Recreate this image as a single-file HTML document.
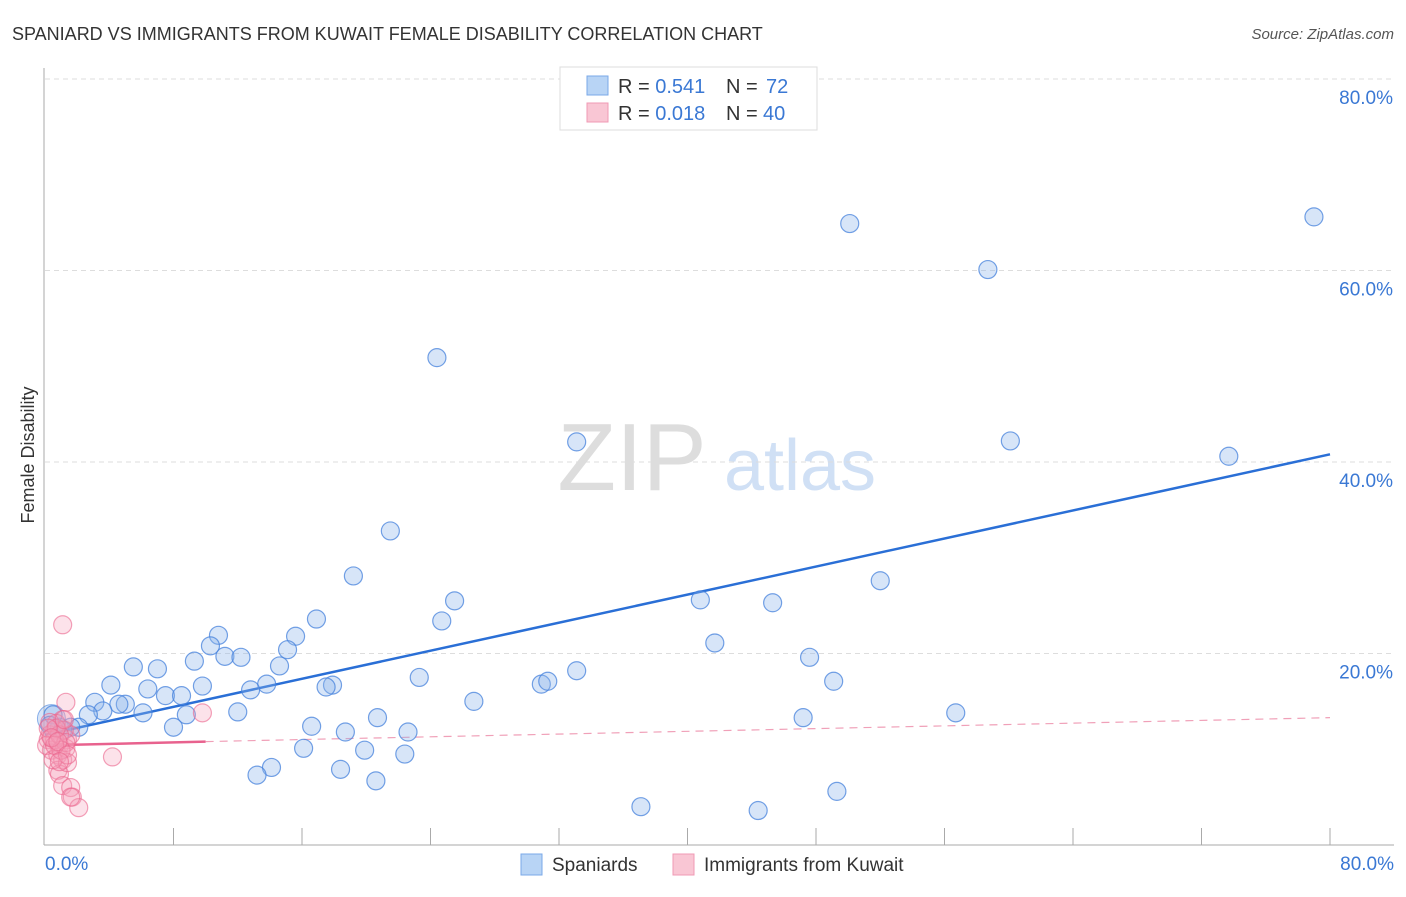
<!DOCTYPE html>
<html><head><meta charset="utf-8"><style>
body{margin:0;background:#fff;font-family:"Liberation Sans",sans-serif}
svg text{font-family:"Liberation Sans",sans-serif}
</style></head><body>
<svg id="c" width="1406" height="892">
<text x="12" y="40" font-size="18" fill="#333">SPANIARD VS IMMIGRANTS FROM KUWAIT FEMALE DISABILITY CORRELATION CHART</text>
<text x="1394" y="39" font-size="15" fill="#555" text-anchor="end" font-style="italic">Source: ZipAtlas.com</text>
<text x="34" y="455" font-size="18" fill="#333" text-anchor="middle" transform="rotate(-90 34 455)">Female Disability</text>
<g><text x="632" y="490" font-size="96" fill="#ddd" font-family="Liberation Serif" text-anchor="middle">ZIP</text><text x="800" y="490" font-size="72" fill="#d0e0f5" text-anchor="middle">atlas</text></g>
<g id="grid"></g><g id="axes"></g><g id="lines"></g><g id="pts"></g>
<g>
<rect x="560" y="67" width="257" height="63" fill="#fff" stroke="#ddd"/>
<rect x="587" y="76" width="21" height="19" fill="#b8d4f5" stroke="#7aa8e8"/>
<rect x="587" y="103" width="21" height="19" fill="#f9c6d4" stroke="#f09ab4"/>
<text x="618" y="93" font-size="20" fill="#333">R = <tspan fill="#3a78d4">0.541</tspan><tspan x="726">N = </tspan><tspan x="766" fill="#3a78d4">72</tspan></text>
<text x="618" y="120" font-size="20" fill="#333">R = <tspan fill="#3a78d4">0.018</tspan><tspan x="726">N = </tspan><tspan x="763" fill="#3a78d4">40</tspan></text>
</g>
<g>
<rect x="521" y="854" width="21" height="21" fill="#b8d4f5" stroke="#7aa8e8"/>
<text x="552" y="871" font-size="19" fill="#333">Spaniards</text>
<rect x="673" y="854" width="21" height="21" fill="#f9c6d4" stroke="#f09ab4"/>
<text x="704" y="871" font-size="19" fill="#333">Immigrants from Kuwait</text>
</g>
</svg>
<script>
const yTicks=[20,40,60,80];
const yTickLabels=["20.0%","40.0%","60.0%","80.0%"];
const xTickLabels=["0.0%","80.0%"];
const blueX=[24.4,50.1,58.7,79.0,60.1,73.7,33.1,21.5,19.2,25.5,24.7,16.9,15.6,10.8,10.3,11.2,12.2,15.1,14.6,9.3,7.0,5.5,4.1,6.4,7.5,8.5,9.8,13.8,12.8,12.0,8.8,8.0,6.1,5.0,4.6,3.1,3.6,2.7,2.1,1.6,0.9,0.5,0.3,1.1,23.3,26.7,30.9,31.3,33.1,40.8,45.3,41.7,47.6,49.1,52.0,56.7,47.2,20.7,22.6,18.7,16.6,17.9,17.5,16.1,19.9,22.4,14.1,13.2,18.4,20.6,37.1,44.4,49.3];
const blueY=[50.9,64.9,60.1,65.6,42.2,40.6,42.1,32.8,28.1,25.5,23.4,23.6,21.8,21.9,20.8,19.7,19.6,20.4,18.7,19.2,18.4,18.6,16.7,16.3,15.6,15.6,16.6,16.8,16.2,13.9,13.6,12.3,13.8,14.7,14.7,14.9,14.0,13.6,12.3,12.3,12.3,13.6,12.5,12.0,17.5,15.0,16.8,17.1,18.2,25.6,25.3,21.1,19.6,17.1,27.6,13.8,13.3,13.3,11.8,11.8,12.4,16.7,16.5,10.1,9.9,9.5,8.1,7.3,7.9,6.7,4.0,3.6,5.6];
const pinkX=[1.1,1.3,9.8,4.2,1.1,1.4,0.9,0.6,0.3,0.2,0.4,0.8,1.1,1.3,1.6,0.7,1.2,0.8,0.9,1.4,1.1,1.6,1.7,2.1,1.6,0.6,0.3,0.1,0.9,0.5,1.3,0.7,0.2,1.2,1.0,0.6,0.4,0.8,1.4,0.9];
const pinkY=[23.0,14.9,13.8,9.2,13.1,11.0,10.4,12.0,11.5,11.0,9.9,9.4,8.9,10.1,11.5,12.7,12.0,7.8,7.4,8.6,6.2,6.0,5.0,3.9,5.0,11.0,12.8,10.4,11.5,8.9,10.7,12.2,12.2,13.1,9.9,10.4,11.2,10.8,9.4,8.7];
const blueLine=[[0,11.5],[80,40.8]];
const pinkLine=[[0,10.4],[10,10.8],[80,13.3]];
const X=v=>45+v*1285/80, Y=v=>845-v*766/80;
const NS="http://www.w3.org/2000/svg";
function mk(p,t,a){const e=document.createElementNS(NS,t);for(const k in a)e.setAttribute(k,a[k]);p.appendChild(e);return e;}
const grid=document.getElementById('grid'),axes=document.getElementById('axes'),lines=document.getElementById('lines'),pts=document.getElementById('pts');
yTicks.forEach((t,i)=>{
 const l=mk(grid,'line',{x1:45,x2:1394,y1:Y(t),y2:Y(t),stroke:'#ddd','stroke-dasharray':'5,4'});
 
 
 const tx=mk(grid,'text',{x:1393,y:Y(t)+25,'font-size':19,fill:'#3a78d4','text-anchor':'end'});tx.textContent=yTickLabels[i];
 
 
});
let a=mk(axes,'line',{x1:44,x2:44,y1:68,y2:845,stroke:'#aaa'});


a=mk(axes,'line',{x1:44,x2:1394,y1:845,y2:845,stroke:'#aaa'});


for(let i=1;i<=10;i++){const t=mk(axes,'line',{x1:X(i*8),x2:X(i*8),y1:828,y2:845,stroke:'#aaa'});
 
 }
[[0,'start',45],[80,'end',1394]].forEach((d,i)=>{const t=mk(axes,'text',{x:d[2],y:870,'font-size':19,fill:'#3a78d4','text-anchor':d[1]});t.textContent=xTickLabels[i];
 
 });
const big=mk(pts,'circle',{cx:X(0.4),cy:Y(13.2),r:14,fill:'rgba(140,180,235,0.35)',stroke:'rgba(70,130,220,0.6)'});


blueX.forEach((x,i)=>{const c=mk(pts,'circle',{cx:X(x),cy:Y(blueY[i]),r:9,fill:'rgba(140,180,235,0.35)',stroke:'rgba(70,130,220,0.75)','stroke-width':1.2});
 
 });
pinkX.forEach((x,i)=>{const c=mk(pts,'circle',{cx:X(x),cy:Y(pinkY[i]),r:9,fill:'rgba(245,160,185,0.3)',stroke:'rgba(235,100,140,0.6)','stroke-width':1.2});
 
 });
let l=mk(lines,'line',{x1:X(blueLine[0][0]),y1:Y(blueLine[0][1]),x2:X(blueLine[1][0]),y2:Y(blueLine[1][1]),stroke:'#2a6fd6','stroke-width':2.5});


l=mk(lines,'line',{x1:X(pinkLine[0][0]),y1:Y(pinkLine[0][1]),x2:X(pinkLine[1][0]),y2:Y(pinkLine[1][1]),stroke:'#e8628e','stroke-width':2.5});


l=mk(lines,'line',{x1:X(pinkLine[1][0]),y1:Y(pinkLine[1][1]),x2:X(pinkLine[2][0]),y2:Y(pinkLine[2][1]),stroke:'#f0a0b8','stroke-width':1.2,'stroke-dasharray':'8,6'});


</script>
</body></html>
